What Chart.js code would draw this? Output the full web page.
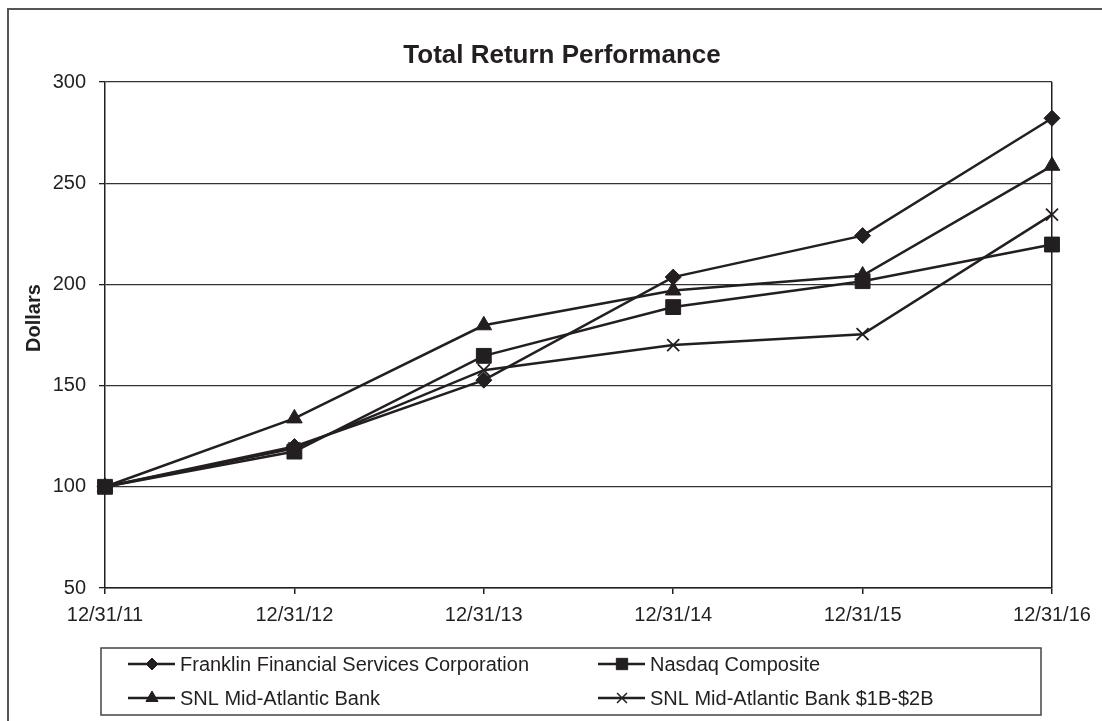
<!DOCTYPE html>
<html>
<head>
<meta charset="utf-8">
<title>Total Return Performance</title>
<script src="https://cdn.jsdelivr.net/npm/chart.js@4.4.1/dist/chart.umd.min.js"></script>
<style>
    html, body { margin: 0; padding: 0; background: #fff; }
    #chart-container { width: 1102px; height: 721px; position: relative; }
</style>
</head>
<body>
<div id="chart-container"><canvas id="returnChart" width="1102" height="721"></canvas></div>
<script>
// data
const periods = ['12/31/11', '12/31/12', '12/31/13', '12/31/14', '12/31/15', '12/31/16'];
const franklinValues = [100, 119.9, 152.7, 203.6, 224.1, 282.1];
const nasdaqValues = [100, 117.4, 164.7, 188.8, 201.6, 219.7];
const snlBankValues = [100, 133.8, 179.8, 197.0, 204.4, 258.6];
const snlSmallBankValues = [100, 119.0, 157.6, 170.0, 175.4, 234.5];
const seriesNames = [
    'Franklin Financial Services Corporation',
    'Nasdaq Composite',
    'SNL Mid-Atlantic Bank',
    'SNL Mid-Atlantic Bank $1B-$2B'
];
const yTicks = [50, 100, 150, 200, 250, 300];

const INK = '#231f20';
const FONT = '"Liberation Sans", Arial, Helvetica, sans-serif';

const makeSeries = (label, data, pointStyle, radius, legendRadius) => ({
    label: label,
    data: data,
    borderColor: INK,
    backgroundColor: INK,
    borderWidth: 2.5,
    tension: 0,
    pointStyle: pointStyle,
    pointRadius: radius,
    pointHoverRadius: radius,
    pointBackgroundColor: INK,
    pointBorderColor: INK,
    pointBorderWidth: pointStyle === 'crossRot' ? 1.8 : 1,
    legendRadius: legendRadius
});

// frame, title, axis title and the boxed legend
const decorations = {
    id: 'decorations',
    beforeDraw(chart) {
        const ctx = chart.ctx;
        ctx.save();
        ctx.fillStyle = '#fff';
        ctx.fillRect(0, 0, chart.width, chart.height);
        ctx.strokeStyle = '#555';
        ctx.lineWidth = 2;
        ctx.strokeRect(8, 9, chart.width + 20, chart.height + 20);
        ctx.restore();
    },
    afterDraw(chart) {
        const ctx = chart.ctx;
        ctx.save();
        ctx.fillStyle = INK;
        ctx.textAlign = 'center';
        ctx.textBaseline = 'alphabetic';
        ctx.font = 'bold 26px ' + FONT;
        ctx.fillText('Total Return Performance', 562, 63);

        ctx.save();
        ctx.translate(34, 318);
        ctx.rotate(-Math.PI / 2);
        ctx.font = 'bold 20px ' + FONT;
        ctx.textBaseline = 'middle';
        ctx.fillText('Dollars', 0, 0);
        ctx.restore();

        // legend box
        ctx.strokeStyle = '#444';
        ctx.lineWidth = 1.5;
        ctx.strokeRect(101, 648, 940, 67);
        const cols = [128, 598];
        const rows = [664, 698];
        ctx.font = '20px ' + FONT;
        ctx.textAlign = 'left';
        ctx.textBaseline = 'middle';
        chart.data.datasets.forEach((ds, i) => {
            const x0 = cols[i % 2];
            const y = rows[Math.floor(i / 2)];
            ctx.strokeStyle = INK;
            ctx.lineWidth = 2.5;
            ctx.beginPath();
            ctx.moveTo(x0, y);
            ctx.lineTo(x0 + 47, y);
            ctx.stroke();
            ctx.fillStyle = INK;
            ctx.lineWidth = ds.pointStyle === 'crossRot' ? 1.5 : 1;
            Chart.helpers.drawPoint(ctx, {
                pointStyle: ds.pointStyle,
                radius: ds.legendRadius,
                borderWidth: ds.pointStyle === 'crossRot' ? 1.5 : 1,
                rotation: 0
            }, x0 + 24, y);
            ctx.fillStyle = INK;
            ctx.fillText(ds.label, x0 + 52, y + 1);
        });
        ctx.restore();
    }
};

const lastIndex = periods.length - 1;

new Chart(document.getElementById('returnChart').getContext('2d'), {
    type: 'line',
    data: {
        labels: periods,
        datasets: [
            makeSeries(seriesNames[0], franklinValues, 'rectRot', 8, 6),
            makeSeries(seriesNames[1], nasdaqValues, 'rect', 10.5, 8),
            makeSeries(seriesNames[2], snlBankValues, 'triangle', 9, 7),
            makeSeries(seriesNames[3], snlSmallBankValues, 'crossRot', 8.5, 7)
        ]
    },
    options: {
        responsive: false,
        animation: false,
        devicePixelRatio: 1,
        layout: { padding: { left: 0, top: 82, right: 50, bottom: 93 } },
        plugins: {
            legend: { display: false },
            title: { display: false },
            tooltip: { enabled: false }
        },
        scales: {
            x: {
                type: 'category',
                offset: false,
                afterFit: (scale) => { scale.height = 40; },
                grid: {
                    drawOnChartArea: true,
                    color: (c) => c.index === lastIndex ? INK : 'rgba(0,0,0,0)',
                    lineWidth: 1.5,
                    tickColor: INK,
                    tickLength: 6
                },
                border: { display: true, color: INK, width: 1.5 },
                ticks: {
                    color: INK,
                    padding: 9,
                    maxRotation: 0,
                    autoSkip: false,
                    font: { family: FONT, size: 20 }
                }
            },
            y: {
                min: yTicks[0],
                max: yTicks[yTicks.length - 1],
                afterFit: (scale) => { scale.width = 105; },
                afterBuildTicks: (scale) => { scale.ticks = yTicks.map(v => ({ value: v })); },
                grid: {
                    color: '#333',
                    lineWidth: 1.3,
                    tickColor: INK,
                    tickLength: 6
                },
                border: { display: true, color: INK, width: 1.5 },
                ticks: {
                    color: INK,
                    padding: 13,
                    font: { family: FONT, size: 20 }
                }
            }
        }
    },
    plugins: [decorations]
});
</script>
</body>
</html>
